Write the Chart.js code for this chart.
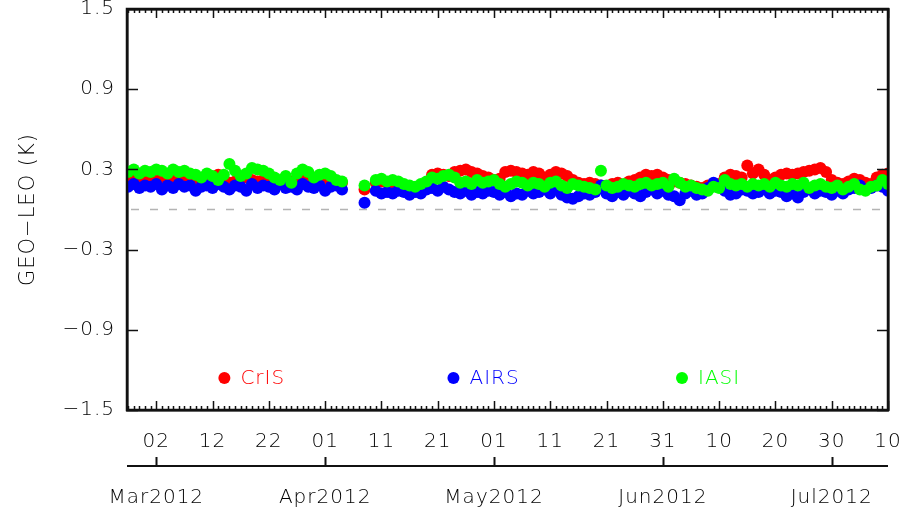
<!DOCTYPE html>
<html>
<head>
<meta charset="utf-8">
<script src="https://cdn.jsdelivr.net/npm/chart.js@4.4.0/dist/chart.umd.min.js"></script>
<style>
  html, body { margin: 0; padding: 0; background: #fff; }
</style>
</head>
<body>
<canvas id="geoLeo" width="900" height="516"></canvas>
<script>
// Daily GEO-LEO differences; x is days counted from 2012-03-01 (day 0).
const firstDay = -4;

const cris = [
  0.22, 0.23, 0.21, 0.22, 0.23, 0.22, 0.21, 0.23, 0.22, 0.21, 0.22, 0.21, 0.22, 0.23, 0.22, 0.21,
  0.26, 0.22, 0.20, 0.21, 0.24, 0.24, 0.22, 0.21, 0.22, 0.22, 0.21, 0.20, 0.22, 0.21, 0.22, 0.22,
  0.21, 0.22, 0.21, 0.20, 0.20, 0.19, 0.20, null, null, null, 0.15, null, 0.20, 0.21, 0.20, 0.20,
  0.19, 0.18, 0.17, 0.16, 0.18, 0.20, 0.26, 0.27, 0.26, 0.25, 0.28, 0.29, 0.30, 0.28, 0.27, 0.25,
  0.24, 0.22, 0.23, 0.28, 0.29, 0.28, 0.27, 0.26, 0.28, 0.27, 0.24, 0.26, 0.28, 0.27, 0.25, 0.22,
  0.20, 0.19, 0.20, 0.19, 0.18, 0.17, 0.19, 0.20, 0.18, 0.21, 0.22, 0.24, 0.26, 0.25, 0.26, 0.24,
  0.22, 0.21, 0.20, 0.19, 0.18, 0.17, 0.16, 0.18, 0.19, 0.19, 0.24, 0.26, 0.25, 0.24, 0.33, 0.27,
  0.30, 0.26, 0.22, 0.24, 0.26, 0.27, 0.26, 0.27, 0.28, 0.29, 0.30, 0.31, 0.28, 0.22, 0.20, 0.19,
  0.21, 0.23, 0.22, 0.20, 0.19, 0.24, 0.26, 0.27
];

const airs = [
  0.17, 0.19, 0.16, 0.18, 0.17, 0.19, 0.15, 0.18, 0.16, 0.19, 0.17, 0.18, 0.14, 0.17, 0.18, 0.16,
  0.19, 0.17, 0.15, 0.18, 0.17, 0.14, 0.19, 0.16, 0.18, 0.17, 0.15, 0.19, 0.16, 0.17, 0.15, 0.19,
  0.17, 0.16, 0.18, 0.14, 0.17, 0.18, 0.15, null, null, null, 0.05, null, 0.14, 0.12, 0.13, 0.12,
  0.14, 0.13, 0.11, 0.13, 0.12, 0.15, 0.16, 0.14, 0.17, 0.15, 0.13, 0.12, 0.14, 0.11, 0.13, 0.12,
  0.14, 0.13, 0.11, 0.13, 0.10, 0.12, 0.11, 0.14, 0.12, 0.13, 0.15, 0.12, 0.16, 0.11, 0.09, 0.08,
  0.10, 0.12, 0.11, 0.13, 0.18, 0.12, 0.10, 0.13, 0.11, 0.14, 0.12, 0.10, 0.13, 0.15, 0.12, 0.14,
  0.11, 0.10, 0.07, 0.12, 0.14, 0.11, 0.12, 0.16, 0.20, 0.17, 0.14, 0.11, 0.12, 0.15, 0.14, 0.12,
  0.13, 0.15, 0.12, 0.14, 0.13, 0.10, 0.12, 0.09, 0.13, 0.15, 0.12, 0.14, 0.13, 0.11, 0.14, 0.12,
  0.15, 0.16, 0.18, 0.15, 0.16, 0.18, 0.17, 0.14
];

const iasi = [
  0.28, 0.30, 0.27, 0.29, 0.28, 0.30, 0.29, 0.27, 0.30, 0.28, 0.29, 0.27, 0.26, 0.24, 0.27, 0.25,
  0.22, 0.26, 0.34, 0.29, 0.25, 0.27, 0.31, 0.30, 0.29, 0.27, 0.24, 0.22, 0.25, 0.20, 0.27, 0.30,
  0.28, 0.24, 0.26, 0.27, 0.25, 0.22, 0.21, null, null, null, 0.18, null, 0.22, 0.23, 0.21, 0.22,
  0.21, 0.19, 0.18, 0.17, 0.19, 0.21, 0.24, 0.23, 0.25, 0.26, 0.24, 0.20, 0.21, 0.19, 0.22, 0.20,
  0.21, 0.22, 0.19, 0.17, 0.19, 0.21, 0.20, 0.18, 0.20, 0.19, 0.17, 0.20, 0.21, 0.18, 0.16, 0.19,
  0.18, 0.17, 0.16, 0.15, 0.29, 0.18, 0.16, 0.17, 0.19, 0.18, 0.17, 0.19, 0.20, 0.18, 0.19, 0.20,
  0.17, 0.23, 0.20, 0.17, 0.18, 0.16, 0.15, 0.14, 0.17, 0.16, 0.22, 0.19, 0.18, 0.19, 0.17, 0.19,
  0.18, 0.19, 0.17, 0.20, 0.18, 0.17, 0.19, 0.18, 0.20, 0.16, 0.18, 0.19, 0.17, 0.16, 0.18, 0.15,
  0.17, 0.19, 0.15, 0.14, 0.17, 0.18, 0.22, 0.19
];

const yTicks = [-1.5, -0.9, -0.3, 0.3, 0.9, 1.5];
const dayTicks = [1, 11, 21, 31, 41, 51, 61, 71, 81, 91, 101, 111, 121, 131];
const dayTickLabels = ['02', '12', '22', '01', '11', '21', '01', '11', '21', '31', '10', '20', '30', '10'];
const monthTicks = [1, 31, 61, 91, 121];
const monthLabels = ['Mar2012', 'Apr2012', 'May2012', 'Jun2012', 'Jul2012'];

const names = ['CrIS', 'AIRS', 'IASI'];
const colors = ['#ff0000', '#0000ff', '#00ff00'];

const FONT = { family: '"DejaVu Sans", sans-serif', size: 20, weight: 200 };
const fontStr = `${FONT.weight} ${FONT.size}px ${FONT.family}`;

function toPoints(values) {
  return values
    .map((v, i) => ({ x: firstDay + i, y: v }))
    .filter(p => p.y !== null);
}

// axis border only: no grid lines inside, no outward tick marks
const boxGrid = { display: true, drawOnChartArea: false, drawTicks: false };
const boxBorder = { display: true, color: '#000', width: 2.5 };

// dashed zero reference under the points
const zeroLine = {
  id: 'zeroLine',
  beforeDatasetsDraw(chart) {
    const ctx = chart.ctx;
    const a = chart.chartArea;
    const y0 = chart.scales.y.getPixelForValue(0);
    ctx.save();
    ctx.strokeStyle = '#b4b4b4';
    ctx.lineWidth = 1.5;
    ctx.setLineDash([8, 11]);
    ctx.beginPath();
    ctx.moveTo(a.left + 4, y0);
    ctx.lineTo(a.right, y0);
    ctx.stroke();
    ctx.restore();
  }
};

// IDL-style box with inward ticks, in-plot legend and the month axis
const idlFrame = {
  id: 'idlFrame',
  beforeDraw(chart) {
    chart.ctx.letterSpacing = '1px';
  },
  afterDraw(chart) {
    const ctx = chart.ctx;
    const a = chart.chartArea;
    const x = chart.scales.x;
    const y = chart.scales.y;
    ctx.save();
    ctx.strokeStyle = '#111111';
    ctx.lineWidth = 2.5;
    ctx.beginPath();
    ctx.rect(a.left, a.top, a.right - a.left, a.bottom - a.top);
    ctx.stroke();

    ctx.lineWidth = 1.5;
    ctx.beginPath();
    for (let d = Math.ceil(x.min); d <= x.max; d++) {
      const px = Math.round(x.getPixelForValue(d)) + 0.5;
      const len = dayTicks.indexOf(d) >= 0 ? 9 : 4;
      ctx.moveTo(px, a.bottom);
      ctx.lineTo(px, a.bottom - len);
      ctx.moveTo(px, a.top);
      ctx.lineTo(px, a.top + len);
    }
    yTicks.forEach(v => {
      const py = Math.round(y.getPixelForValue(v)) + 0.5;
      ctx.moveTo(a.left, py);
      ctx.lineTo(a.left + 11, py);
      ctx.moveTo(a.right, py);
      ctx.lineTo(a.right - 11, py);
    });
    ctx.stroke();

    // month axis below the day labels
    const axisY = 466;
    ctx.lineWidth = 2;
    ctx.beginPath();
    ctx.moveTo(a.left, axisY);
    ctx.lineTo(a.right, axisY);
    monthTicks.forEach(d => {
      const px = Math.round(x.getPixelForValue(d)) + 0.5;
      ctx.moveTo(px, axisY);
      ctx.lineTo(px, axisY - 9);
    });
    ctx.stroke();

    ctx.font = fontStr;
    ctx.textBaseline = 'middle';
    ctx.fillStyle = '#000';
    ctx.textAlign = 'center';
    monthTicks.forEach((d, i) => {
      ctx.fillText(monthLabels[i], x.getPixelForValue(d), 498);
    });

    // legend inside the plot, anchored in data units
    const legendAt = [13.1, 53.8, 94.4];
    const ly = y.getPixelForValue(-1.26);
    ctx.textAlign = 'left';
    names.forEach((n, i) => {
      const lx = x.getPixelForValue(legendAt[i]);
      ctx.fillStyle = colors[i];
      ctx.beginPath();
      ctx.arc(lx, ly, 6, 0, Math.PI * 2);
      ctx.fill();
      ctx.fillText(n, lx + 16, ly + 1);
    });
    ctx.restore();
  }
};

// IASI on top, then AIRS, with CrIS underneath
const drawOrder = [2, 1, 0];

new Chart(document.getElementById('geoLeo'), {
  type: 'scatter',
  data: {
    datasets: [cris, airs, iasi].map((vals, i) => ({
      label: names[i],
      data: toPoints(vals),
      order: drawOrder[i],
      backgroundColor: colors[i],
      borderWidth: 0,
      pointRadius: 6,
      clip: 0
    }))
  },
  options: {
    responsive: false,
    animation: false,
    events: [],
    layout: { padding: { top: 9, right: 12, left: 0, bottom: 0 } },
    plugins: { legend: { display: false }, tooltip: { enabled: false } },
    scales: {
      x: {
        type: 'linear',
        min: -4.2,
        max: 131,
        grid: boxGrid,
        border: boxBorder,
        afterBuildTicks(scale) {
          scale.ticks = dayTicks.map(v => ({ value: v }));
        },
        afterFit(scale) {
          scale.height = 106;
          scale.paddingLeft = 0;
          scale.paddingRight = 0;
        },
        ticks: {
          autoSkip: false,
          maxRotation: 0,
          padding: 20,
          color: '#000',
          font: FONT,
          callback: (v, i) => dayTickLabels[i]
        }
      },
      xTop: {
        type: 'linear',
        position: 'top',
        min: -4.2,
        max: 131,
        grid: boxGrid,
        border: boxBorder,
        ticks: { display: false },
        afterFit(scale) {
          scale.height = 0;
          scale.paddingLeft = 0;
          scale.paddingRight = 0;
        }
      },
      y: {
        min: -1.5,
        max: 1.5,
        grid: boxGrid,
        border: boxBorder,
        afterBuildTicks(scale) {
          scale.ticks = yTicks.map(v => ({ value: v }));
        },
        afterFit(scale) {
          scale.width = 127;
          scale.paddingTop = 0;
          scale.paddingBottom = 0;
        },
        ticks: {
          padding: 12,
          color: '#000',
          font: FONT,
          callback: v => (v < 0 ? '\u2212' : '') + Math.abs(v).toFixed(1)
        },
        title: {
          display: true,
          text: 'GEO\u2212LEO (K)',
          color: '#000',
          font: { family: FONT.family, size: 21, weight: 200 },
          padding: { top: 16, bottom: 0 }
        }
      },
      yRight: {
        position: 'right',
        min: -1.5,
        max: 1.5,
        grid: boxGrid,
        border: boxBorder,
        ticks: { display: false },
        afterFit(scale) {
          scale.width = 0;
          scale.paddingTop = 0;
          scale.paddingBottom = 0;
        }
      }
    }
  },
  plugins: [zeroLine, idlFrame]
});
</script>
</body>
</html>
